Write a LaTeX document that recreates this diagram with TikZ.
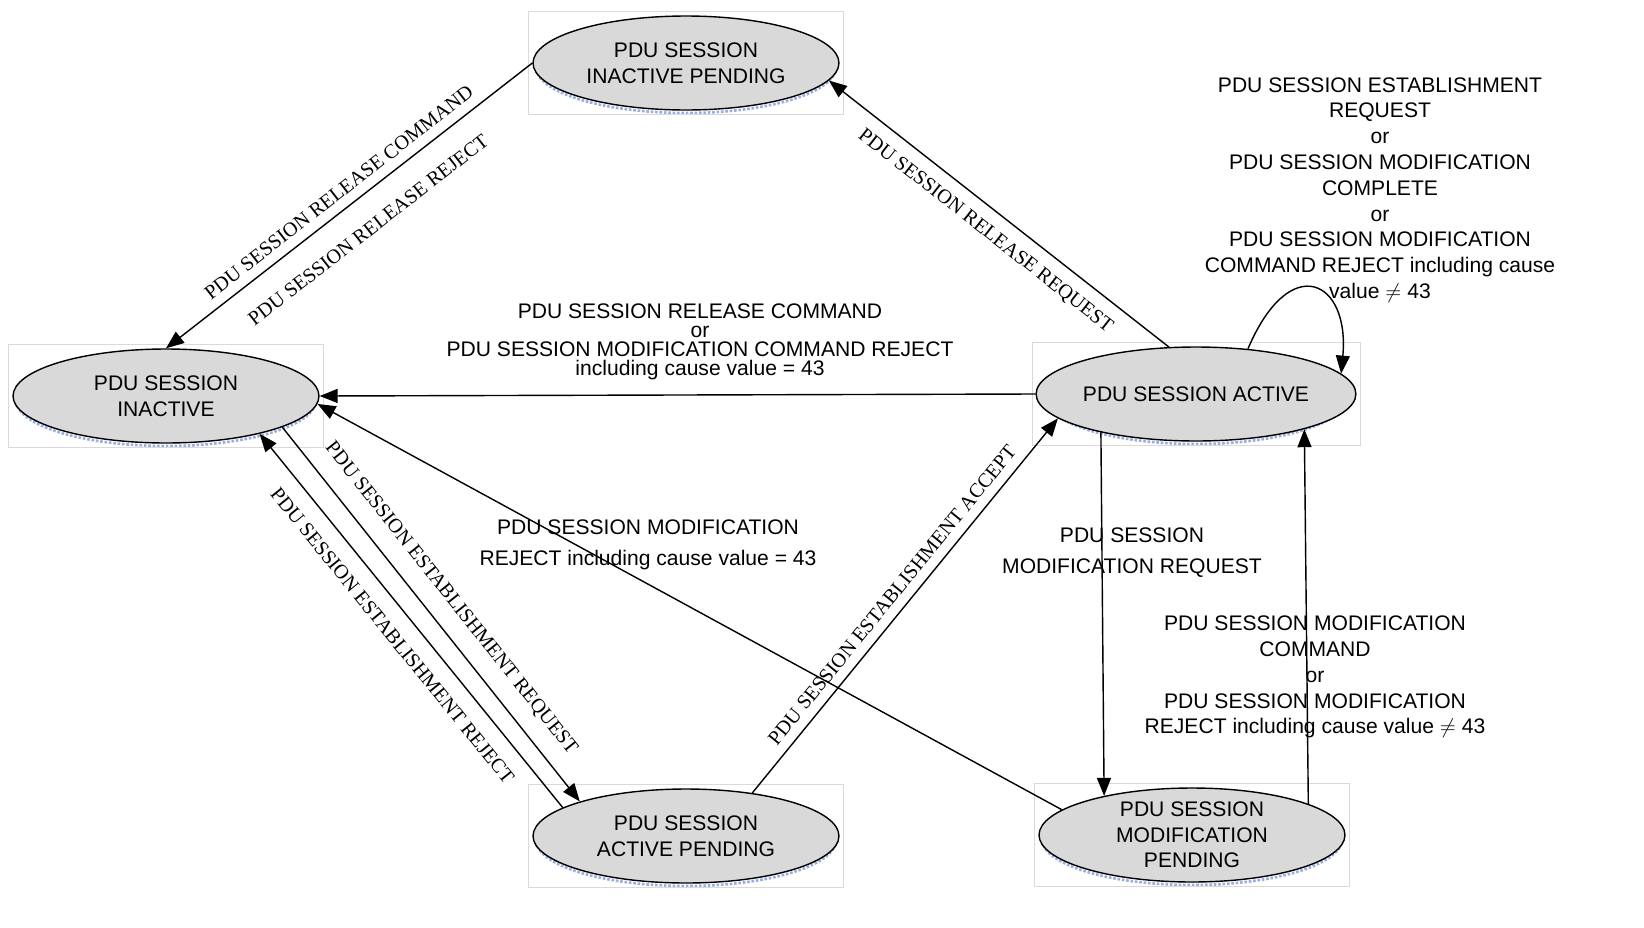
\documentclass[tikz,border=0pt]{standalone}
\usepackage{fontspec}
\setmainfont{Liberation Sans}
\newfontfamily\rotfont{Liberation Serif}
\usetikzlibrary{arrows.meta,fit,shapes.geometric}
\tikzset{
  state/.style={ellipse,draw,thick,fill=gray!30,minimum width=6.12cm,minimum height=1.88cm,inner sep=0,align=center,font=\fontsize{12}{14.5}\selectfont},
  frame/.style={draw=gray!30,inner sep=2pt},
  shade/.style={draw=cyan!40!blue!40,densely dotted,line width=1.5pt},
  trans/.style={thick,-{Triangle[length=0.36cm,width=0.28cm]}},
  lbl/.style={align=center,font=\fontsize{12}{14.7}\selectfont},
  rot/.style={sloped,font=\rotfont\fontsize{11.5}{13}\selectfont},
}
\begin{document}
\begin{tikzpicture}[x=0.02cm,y=-0.02cm]
  \useasboundingbox (0,0) rectangle (1644,927);

  % states
  \foreach \n/\x/\y/\t in {ip/686/63/{PDU SESSION\\INACTIVE PENDING},
      in/166/396/{PDU SESSION\\INACTIVE},
      act/1196/394/{PDU SESSION ACTIVE},
      ap/686/836/{PDU SESSION\\ACTIVE PENDING},
      mp/1192/835/{PDU SESSION\\MODIFICATION\\PENDING}}{
    \draw[shade] (\x,\y+4) ellipse (150 and 46);
    \node[state] (\n) at (\x,\y) {\t};
    \node[frame,fit=(\n)] {};
  }

  % transitions
  \draw[trans] (ip.180) -- (in.90)
    node[rot,midway,above=2pt] {PDU SESSION RELEASE COMMAND}
    node[rot,midway,below=10pt] {PDU SESSION RELEASE REJECT};
  \draw[trans] (act.120) -- (ip.353)
    node[rot,midway,below=4pt] {PDU SESSION RELEASE REQUEST};
  \draw[trans] (act.180) -- (in.0)
    node[lbl] at (700,342) {PDU SESSION RELEASE COMMAND\\[-4pt]or\\[-4pt]PDU SESSION MODIFICATION COMMAND REJECT\\[-4pt]including cause value = 43};
  \draw[trans] (act.41) .. controls (1290,250) and (1350,280) .. (act.8)
    node[lbl] at (1380,190) {PDU SESSION ESTABLISHMENT\\REQUEST\\or\\PDU SESSION MODIFICATION\\COMPLETE\\or\\PDU SESSION MODIFICATION\\COMMAND REJECT including cause\\value $\neq$ 43};
  \draw[trans] (in.345) -- (ap.162)
    node[rot,midway,above=6pt] {PDU SESSION ESTABLISHMENT REQUEST};
  \draw[trans] (ap.167) -- (in.338)
    node[rot,midway,below=6pt] {PDU SESSION ESTABLISHMENT REJECT};
  \draw[trans] (ap.33) -- (act.190)
    node[rot,midway,above=2pt] {PDU SESSION ESTABLISHMENT ACCEPT};
  \draw[trans] (mp.169) -- (in.357)
    node[lbl] at (648,545) {PDU SESSION MODIFICATION\\[3pt]REJECT including cause value = 43};
  \draw[trans] (act.202) -- (mp.156)
    node[lbl] at (1132,553) {PDU SESSION\\[3pt]MODIFICATION REQUEST};
  \draw[trans] (mp.15) -- (act.342)
    node[lbl] at (1315,677) {PDU SESSION MODIFICATION\\COMMAND\\or\\PDU SESSION MODIFICATION\\REJECT including cause value $\neq$ 43};
\end{tikzpicture}
\end{document}
